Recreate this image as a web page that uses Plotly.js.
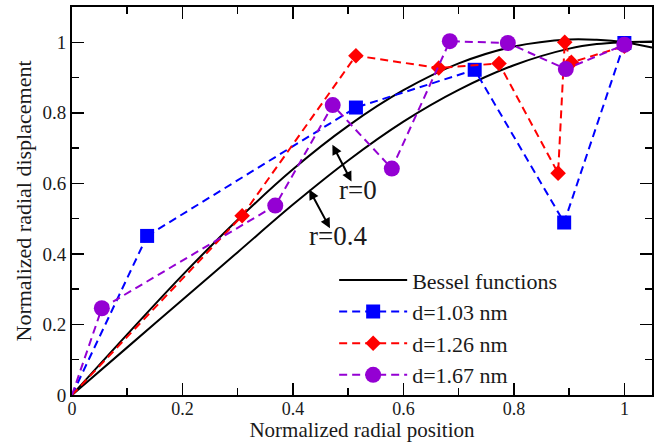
<!DOCTYPE html>
<html><head><meta charset="utf-8">
<script src="https://cdn.plot.ly/plotly-3.0.1.min.js"></script>
<style>html,body{margin:0;padding:0;background:#fff}</style>
</head><body><div id="chart" style="width:659px;height:442px"></div>
<script>
// Bessel-function curves
const besselX   = [0, 0.1, 0.2, 0.3, 0.4, 0.5, 0.6, 0.7, 0.8, 0.9, 0.95, 1.0, 1.05];
const besselR0  = [0, 0.172, 0.34, 0.497, 0.64, 0.763, 0.864, 0.94, 0.988, 1.008, 1.007, 1.0, 0.985];
const besselR04 = [0, 0.135, 0.27, 0.405, 0.54, 0.665, 0.775, 0.865, 0.935, 0.982, 0.995, 1.0, 1.002];

// Simulation series
const blueX = [0, 0.136, 0.514, 0.729, 0.891, 1.0];
const blueY = [0, 0.451, 0.815, 0.922, 0.489, 0.998];
const redX = [0, 0.308, 0.514, 0.664, 0.773, 0.880, 0.892, 0.904, 1.0];
const redY = [0, 0.508, 0.962, 0.927, 0.940, 0.629, 1.0, 0.943, 0.989];
const purpleX = [0, 0.054, 0.368, 0.472, 0.579, 0.684, 0.789, 0.894, 1.0];
const purpleY = [0, 0.246, 0.537, 0.822, 0.642, 1.003, 0.998, 0.924, 0.993];

const seriesNames = ['Bessel functions', 'd=1.03 nm', 'd=1.26 nm', 'd=1.67 nm'];
const xTitle = 'Normalized radial position';
const yTitle = 'Normalized radial displacement';
const labelR0 = 'r=0';
const labelR04 = 'r=0.4';

const FONT = 'Liberation Serif, Times New Roman, serif';
const TXT = '#1a1a1a';
const DASH = '8px,5px';

function series(x, y, name, color, symbol, size) {
  // first segment from origin (no marker there) + the marked polyline
  return [
    {x: x.slice(0, 2), y: y.slice(0, 2), mode: 'lines', showlegend: false, hoverinfo: 'skip',
     legendgroup: name, line: {color: color, width: 2, dash: DASH}},
    {x: x.slice(1), y: y.slice(1), mode: 'lines+markers', name: name, legendgroup: name,
     line: {color: color, width: 2, dash: DASH},
     marker: {color: color, symbol: symbol, size: size}}
  ];
}

const data = [
  {x: besselX, y: besselR0, mode: 'lines', name: seriesNames[0], legendgroup: 'b',
   line: {color: '#000', width: 2, shape: 'spline'}},
  {x: besselX, y: besselR04, mode: 'lines', name: seriesNames[0], legendgroup: 'b', showlegend: false,
   line: {color: '#000', width: 2, shape: 'spline'}},
  ...series(blueX, blueY, seriesNames[1], '#0000ff', 'square', 14),
  ...series(redX, redY, seriesNames[2], '#ff0000', 'diamond', 12),
  ...series(purpleX, purpleY, seriesNames[3], '#9400d3', 'circle', 16)
];

const axisCommon = {
  showgrid: false, zeroline: false, showline: true, linecolor: '#000', linewidth: 2,
  mirror: 'ticks', ticks: 'inside', ticklen: 12, tickwidth: 1.5, tickcolor: '#000',
  dtick: 0.2, tick0: 0,
  minor: {ticks: 'inside', ticklen: 7, tickwidth: 1.5, tickcolor: '#000', dtick: 0.1, showgrid: false},
  tickfont: {family: FONT, size: 18, color: TXT}
};

const layout = {
  width: 659, height: 442,
  margin: {l: 72, r: 7, t: 7, b: 47},
  paper_bgcolor: '#fff', plot_bgcolor: '#fff',
  showlegend: true,
  xaxis: Object.assign({}, axisCommon, {range: [0, 1.05], ticklabelstandoff: -4,
    title: {text: xTitle, font: {family: FONT, size: 21, color: TXT}, standoff: 2}}),
  yaxis: Object.assign({}, axisCommon, {range: [0, 1.1], tickfont: {family: FONT, size: 19, color: TXT},
    title: {text: yTitle, font: {family: FONT, size: 22, color: TXT}, standoff: 5}}),
  legend: {x: 0.452, y: 0.35, xanchor: 'left', yanchor: 'top', bgcolor: 'rgba(0,0,0,0)',
    font: {family: FONT, size: 22, color: TXT}, itemwidth: 68, tracegroupgap: 0},
  annotations: [
    {x: 0.506, y: 0.605, ax: 0.470, ay: 0.714, axref: 'x', ayref: 'y', xref: 'x', yref: 'y',
     text: '', showarrow: true, arrowside: 'end+start', arrowhead: 2, arrowsize: 1, arrowwidth: 2, arrowcolor: '#000'},
    {x: 0.467, y: 0.473, ax: 0.428, ay: 0.587, axref: 'x', ayref: 'y', xref: 'x', yref: 'y',
     text: '', showarrow: true, arrowside: 'end+start', arrowhead: 2, arrowsize: 1, arrowwidth: 2, arrowcolor: '#000'},
    {x: 0.518, y: 0.58, xref: 'x', yref: 'y', text: labelR0, showarrow: false,
     font: {family: FONT, size: 27, color: TXT}},
    {x: 0.482, y: 0.45, xref: 'x', yref: 'y', text: labelR04, showarrow: false,
     font: {family: FONT, size: 27, color: TXT}}
  ]
};

Plotly.newPlot('chart', data, layout, {displayModeBar: false, staticPlot: true});
</script></body></html>
